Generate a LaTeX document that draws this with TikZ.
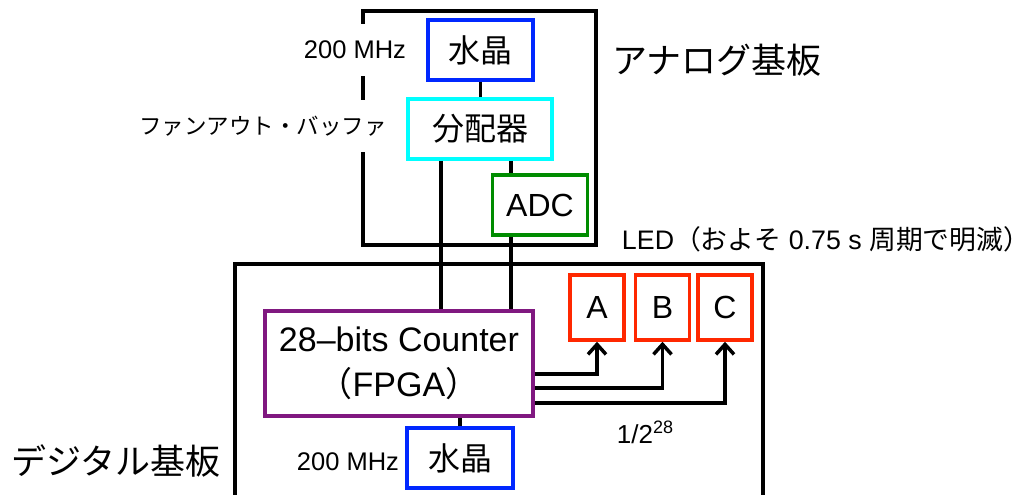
\documentclass[tikz,border=0pt]{standalone}
\usepackage{fontspec}
\setmainfont{Liberation Sans}
\newfontfamily\cjk{Noto Sans CJK JP}
\usetikzlibrary{arrows.meta,calc}
\definecolor{cblue}{RGB}{0,40,255}
\definecolor{ccyan}{RGB}{0,255,255}
\definecolor{cgreen}{RGB}{0,140,0}
\definecolor{cpurple}{RGB}{128,24,128}
\definecolor{cred}{RGB}{255,40,0}
\newcommand\fsbox{\fontsize{32}{41}\selectfont}
\newcommand\fsfpga{\fontsize{34}{41}\selectfont}
\newcommand\fsboard{\fontsize{35}{40}\selectfont}
\newcommand\fsled{\fontsize{26.8}{32}\selectfont}
\newcommand\fssmall{\fontsize{25.5}{28}\selectfont}
\newcommand\fsdiv{\fontsize{26}{28}\selectfont}
\newcommand\fssup{\fontsize{18}{20}\selectfont}
\newcommand\fsfan{\fontsize{22.5}{28}\selectfont}
\begin{document}
\begin{tikzpicture}[x=1pt,y=-1pt,
  box/.style={draw, line width=3.5pt, inner sep=0pt, align=center},
  board/.style={draw=black, line width=3.5pt},
  wire/.style={line width=3.5pt},
  arr/.style={line width=3.5pt, -{Straight Barb[length=10pt,width=18pt]}},
  gaplbl/.style={fill=white, inner xsep=3pt, minimum height=52pt},
  lbl/.style={inner sep=1pt},
]
\useasboundingbox (0,0) rectangle (1033,495);
% boards
\node[board, minimum width=233, minimum height=234, inner sep=0pt] (analog) at (479.5,128) {};
\coordinate (dtl) at (235,264);
\coordinate (dtr) at (763,264);
\draw[board] (235,500) -- (dtl) -- (dtr) -- (763,500);
% boxes
\node[box, draw=cblue, minimum width=105, minimum height=60, font=\cjk\fsbox] (xtalA) at (480.5,50) {水晶};
\node[box, draw=ccyan, minimum width=144, minimum height=60, font=\cjk\fsbox] (dist) at (480,129) {分配器};
\node[box, draw=cgreen, minimum width=95, minimum height=60, font=\fsbox] (adc) at (540,205) {ADC};
\node[box, draw=cpurple, minimum width=268, minimum height=105, font=\fsfpga] (fpga) at (399,363.5) {\raisebox{-4pt}{28--bits Counter}\\[4pt]\raisebox{-4pt}{{\cjk （}FPGA{\cjk ）}}};
\node[box, draw=cred, minimum width=54, minimum height=65, font=\fsbox] (ledA) at (597,307.5) {A};
\node[box, draw=cred, minimum width=54, minimum height=65, font=\fsbox] (ledB) at (662.5,307.5) {B};
\node[box, draw=cred, minimum width=54, minimum height=65, font=\fsbox] (ledC) at (725,307.5) {C};
\node[box, draw=cblue, minimum width=106, minimum height=60, font=\cjk\fsbox] (xtalB) at (460,458) {水晶};
% wires
\coordinate (xl) at (441,0);
\coordinate (xr) at (511,0);
\draw[wire] (xtalA.south) -- (xtalA.south |- dist.north);
\draw[wire] (dist.south -| xl) -- (fpga.north -| xl);
\draw[wire] (dist.south -| xr) -- (adc.north -| xr);
\draw[wire] (adc.south -| xr) -- (fpga.north -| xr);
\draw[wire] (xtalB.north) -- (xtalB.north |- fpga.south);
\coordinate (ya) at (0,374);
\coordinate (yb) at (0,388);
\coordinate (yc) at (0,403);
\draw[arr] (fpga.east |- ya) -| (ledA.south);
\draw[arr] (fpga.east |- yb) -| (ledB.south);
\draw[arr] (fpga.east |- yc) -| (ledC.south);
% labels
\node[gaplbl, font=\fssmall] (fA) at (355,50) {200 MHz};
\node[gaplbl, font=\cjk\fsfan] (fan) at (263,126) {ファンアウト・バッファ};
\node[lbl, font=\cjk\fsboard] (aboard) at (717,60) {アナログ基板};
\node[lbl, font=\cjk\fsboard] (dboard) at (116,461) {デジタル基板};
\node[lbl, font=\fsled] (ledlbl) at (826,239) {LED{\cjk （およそ} 0.75 s {\cjk 周期で明滅）}};
\node[lbl, font=\fsdiv] (div) at (645,432) {1/2\raisebox{10pt}{\fssup 28}};
\node[lbl, font=\fssmall] (fB) at (348,462) {200 MHz};
\end{tikzpicture}
\end{document}
